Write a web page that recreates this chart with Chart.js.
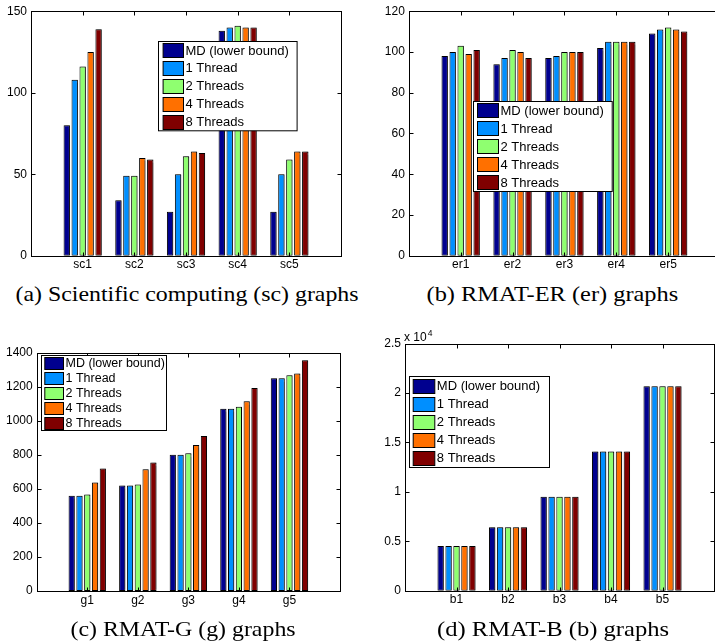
<!DOCTYPE html>
<html>
<head>
<meta charset="utf-8">
<title>Coloring runtime by graph family</title>
<script src="https://cdn.jsdelivr.net/npm/chart.js@4.4.1/dist/chart.umd.min.js"></script>
<style>
    html, body { margin: 0; padding: 0; background: #fff; }
    body { width: 715px; height: 644px; position: relative; overflow: hidden; }
    canvas { position: absolute; }
    .caption {
        position: absolute;
        font-family: "Liberation Serif", "DejaVu Serif", serif;
        font-size: 21px;
        line-height: 21px;
        white-space: nowrap;
        color: #000;
        transform-origin: 50% 50%;
    }
</style>
</head>
<body>
<canvas id="chartSC" width="360" height="280" style="left:0;top:0"></canvas>
<canvas id="chartER" width="370" height="280" style="left:360px;top:0"></canvas>
<canvas id="chartG" width="360" height="300" style="left:0;top:320px"></canvas>
<canvas id="chartB" width="370" height="300" style="left:360px;top:320px"></canvas>

<div class="caption" data-cx="186.5" data-w="343" style="top:284px">(a) Scientific computing (sc) graphs</div>
<div class="caption" data-cx="552.5" data-w="252" style="top:284px">(b) RMAT-ER (er) graphs</div>
<div class="caption" data-cx="183.4" data-w="225" style="top:619.4px">(c) RMAT-G (g) graphs</div>
<div class="caption" data-cx="552.5" data-w="232" style="top:619.4px">(d) RMAT-B (b) graphs</div>

<script>
"use strict";

var seriesNames = ['MD (lower bound)', '1 Thread', '2 Threads', '4 Threads', '8 Threads'];
var seriesColors = ['#00008f', '#008fff', '#8fff70', '#ff7000', '#800000'];

/* scientific computing graphs */
var scLabels = ['sc1', 'sc2', 'sc3', 'sc4', 'sc5'];
var scMD = [80, 34, 27, 138, 27];
var sc1T = [108, 49, 50, 140, 50];
var sc2T = [116, 49, 61, 141, 59];
var sc4T = [125, 60, 64, 140, 64];
var sc8T = [139, 59, 63, 140, 64];
var scTicks = [0, 50, 100, 150];

/* RMAT-ER graphs */
var erLabels = ['er1', 'er2', 'er3', 'er4', 'er5'];
var erMD = [98, 94, 97, 102, 109];
var er1T = [100, 97, 98, 105, 111];
var er2T = [103, 101, 100, 105, 112];
var er4T = [99, 100, 100, 105, 111];
var er8T = [101, 97, 100, 105, 110];
var erTicks = [0, 20, 40, 60, 80, 100, 120];

/* RMAT-G graphs */
var gLabels = ['g1', 'g2', 'g3', 'g4', 'g5'];
var gMD = [560, 620, 800, 1070, 1250];
var g1T = [560, 620, 800, 1070, 1250];
var g2T = [567, 625, 810, 1082, 1267];
var g4T = [638, 715, 858, 1115, 1278];
var g8T = [720, 755, 910, 1193, 1355];
var gTicks = [0, 200, 400, 600, 800, 1000, 1200, 1400];

/* RMAT-B graphs */
var bLabels = ['b1', 'b2', 'b3', 'b4', 'b5'];
var bMD = [4520, 6420, 9490, 14090, 20680];
var b1T = [4520, 6420, 9490, 14090, 20680];
var b2T = [4520, 6420, 9490, 14090, 20680];
var b4T = [4520, 6420, 9490, 14090, 20680];
var b8T = [4520, 6420, 9490, 14090, 20680];
var bTicks = [0, 5000, 10000, 15000, 20000, 25000];

var sansFont = "'Liberation Sans', Arial, sans-serif";

/* soft grey shadow to the right of each bar */
var barShadow = {
    id: 'barShadow',
    beforeDatasetsDraw: function (chart) {
        var c = chart.ctx;
        c.save();
        c.shadowColor = 'rgba(0, 0, 0, 0.3)';
        c.shadowOffsetX = 1.5;
        c.shadowOffsetY = 0;
        c.shadowBlur = 1;
    },
    afterDatasetsDraw: function (chart) {
        chart.ctx.restore();
    }
};

/* boxed axes with inward ticks, boxed legend and axis exponent */
var matlabFrame = {
    id: 'matlabFrame',
    afterDraw: function (chart, args, opts) {
        var c = chart.ctx;
        var a = chart.chartArea;
        var xs = chart.scales.x, ys = chart.scales.y;
        var L = Math.round(a.left) + 0.5, R = Math.round(a.right) + 0.5;
        var T = Math.round(a.top) + 0.5, B = Math.round(a.bottom) + 0.5;
        c.save();
        c.strokeStyle = '#000';
        c.lineWidth = 1;
        c.beginPath();
        ys.ticks.forEach(function (t) {
            var y = Math.round(ys.getPixelForValue(t.value)) + 0.5;
            c.moveTo(L, y); c.lineTo(L + 4, y);
            c.moveTo(R, y); c.lineTo(R - 4, y);
        });
        chart.data.labels.forEach(function (lab, i) {
            if (!lab) return;
            var x = Math.round(xs.getPixelForValue(i)) + 0.5;
            c.moveTo(x, B); c.lineTo(x, B - 4);
            c.moveTo(x, T); c.lineTo(x, T + 4);
        });
        c.stroke();
        c.strokeRect(L, T, R - L, B - T);

        var lg = opts.legend;
        if (lg) {
            var ox = opts.origin[0], oy = opts.origin[1];
            var lx = Math.round(lg.x - ox) + 0.5, ly = Math.round(lg.y - oy) + 0.5;
            c.fillStyle = '#fff';
            c.fillRect(lx, ly, lg.w, lg.h);
            c.strokeRect(lx, ly, lg.w, lg.h);
            var n = chart.data.datasets.length;
            var row = lg.h / n;
            var sh = row * 0.78;
            c.font = lg.font + 'px ' + sansFont;
            c.textBaseline = 'middle';
            c.textAlign = 'left';
            chart.data.datasets.forEach(function (ds, i) {
                var cy = ly + row * (i + 0.5);
                var sy = Math.round(cy - sh / 2) + 0.5;
                c.fillStyle = ds.backgroundColor;
                c.fillRect(lx + lg.sx, sy, lg.sw, Math.round(sh));
                c.strokeRect(lx + lg.sx, sy, lg.sw, Math.round(sh));
                c.fillStyle = '#000';
                c.fillText(ds.label, lx + lg.sx + lg.sw + 2, cy + 0.5);
            });
        }

        var ex = opts.exponent;
        if (ex) {
            c.fillStyle = '#000';
            c.textBaseline = 'alphabetic';
            c.textAlign = 'left';
            c.font = '12px ' + sansFont;
            var ex0 = ex.x - opts.origin[0], ey0 = ex.y - opts.origin[1];
            c.fillText(ex.base, ex0, ey0);
            var bw = c.measureText(ex.base).width;
            c.font = '8.5px ' + sansFont;
            c.fillText(ex.power, ex0 + bw + 1, ey0 - 5);
        }
        c.restore();
    }
};

function makePanel(canvasId, labels, series, yTicks, area, legend, tickFormat, exponent) {
    var el = document.getElementById(canvasId);
    var ox = parseFloat(el.style.left) || 0, oy = parseFloat(el.style.top) || 0;
    var cw = el.width, ch = el.height;

    // blank slots either side give the 0..6 x-range of the grouped bars
    var paddedLabels = [''].concat(labels, ['']);
    var datasets = series.map(function (values, i) {
        return {
            label: seriesNames[i],
            data: [null].concat(values, [null]),
            backgroundColor: seriesColors[i],
            borderColor: '#000',
            borderWidth: 1,
            borderSkipped: false,
            barPercentage: 0.8,
            categoryPercentage: 0.77
        };
    });

    var yw = area.left - ox;
    var xh = oy + ch - area.bottom;

    return new Chart(el.getContext('2d'), {
        type: 'bar',
        data: { labels: paddedLabels, datasets: datasets },
        options: {
            responsive: false,
            animation: false,
            events: [],
            layout: {
                padding: { left: 0, bottom: 0, top: area.top - oy, right: ox + cw - area.right }
            },
            plugins: {
                legend: { display: false },
                tooltip: { enabled: false },
                matlabFrame: { origin: [ox, oy], legend: legend, exponent: exponent }
            },
            scales: {
                x: {
                    offset: false,
                    grid: { display: false, drawTicks: false },
                    border: { display: false },
                    ticks: {
                        autoSkip: false,
                        maxRotation: 0,
                        padding: 2,
                        color: '#000',
                        font: { family: sansFont, size: 12 }
                    },
                    afterFit: function (s) { s.height = xh; }
                },
                y: {
                    min: yTicks[0],
                    max: yTicks[yTicks.length - 1],
                    grid: { display: false, drawTicks: false },
                    border: { display: false },
                    ticks: {
                        stepSize: yTicks[1] - yTicks[0],
                        padding: 4,
                        color: '#000',
                        font: { family: sansFont, size: 12 },
                        callback: tickFormat || function (v) { return String(v); }
                    },
                    afterFit: function (s) { s.width = yw; }
                }
            }
        },
        plugins: [barShadow, matlabFrame]
    });
}

makePanel('chartSC', scLabels, [scMD, sc1T, sc2T, sc4T, sc8T], scTicks,
    { left: 31, top: 10.7, right: 341, bottom: 255.7 },
    { x: 157.7, y: 40.7, w: 138.6, h: 89.3, sx: 4.6, sw: 20.4, font: 13 });

makePanel('chartER', erLabels, [erMD, er1T, er2T, er4T, er8T], erTicks,
    { left: 408.8, top: 10.7, right: 720, bottom: 255.7 },
    { x: 473.3, y: 101, w: 138.7, h: 90, sx: 4, sw: 21, font: 13 });

makePanel('chartG', gLabels, [gMD, g1T, g2T, g4T, g8T], gTicks,
    { left: 36.7, top: 352.7, right: 340, bottom: 591 },
    { x: 40.7, y: 355, w: 125, h: 75, sx: 3.3, sw: 18.7, font: 12.5 });

makePanel('chartB', bLabels, [bMD, b1T, b2T, b4T, b8T], bTicks,
    { left: 405, top: 343.5, right: 714, bottom: 590.7 },
    { x: 409, y: 375.7, w: 140, h: 91, sx: 3.7, sw: 21.6, font: 13 },
    function (v) { return String(v / 10000); },
    { x: 404, y: 340.7, base: 'x 10', power: '4' });

/* stretch each caption to its column width */
document.querySelectorAll('.caption').forEach(function (el) {
    var w = el.offsetWidth;
    var target = parseFloat(el.dataset.w);
    var cx = parseFloat(el.dataset.cx);
    el.style.left = (cx - w / 2) + 'px';
    el.style.transform = 'scaleX(' + (target / w).toFixed(4) + ')';
});
</script>
</body>
</html>
